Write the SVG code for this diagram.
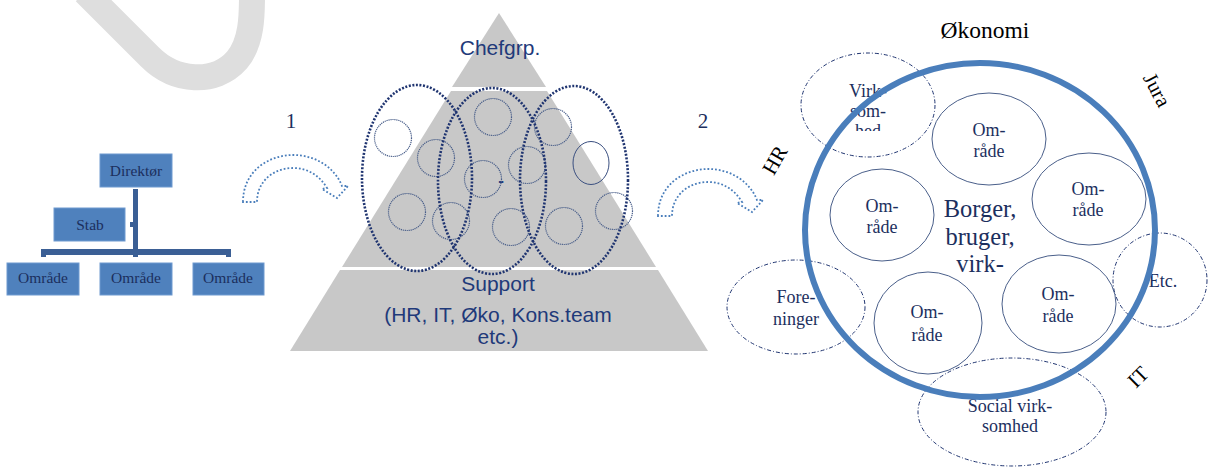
<svg xmlns="http://www.w3.org/2000/svg" width="1211" height="467" viewBox="0 0 1211 467">
<defs>
<style>
.box{fill:#4f81bd;stroke:#6f9ad0;stroke-width:1}
.ot{font-family:"Liberation Serif",serif;font-size:15.5px;fill:#1c2f5e;text-anchor:middle}
.pt{font-family:"Liberation Sans",Arial,sans-serif;font-size:21px;fill:#1f3a7a;text-anchor:middle}
.st{font-family:"Liberation Serif",serif;font-size:18px;fill:#1c2f5e;text-anchor:middle}
.bt{font-family:"Liberation Serif",serif;font-size:24.5px;fill:#1c2f5e;text-anchor:middle}
.lt{font-family:"Liberation Serif",serif;font-size:21px;fill:#000;text-anchor:middle}
.big{fill:none;stroke:#1f3470;stroke-width:2.6;stroke-dasharray:2 1.6}
.sm{fill:none;stroke:#4a5f8a;stroke-width:1.2;stroke-dasharray:1.2 0.8}
.arr{fill:none;stroke:#4a7ebb;stroke-width:1.8;stroke-dasharray:1.8 2}
.om{fill:none;stroke:#4a5f8a;stroke-width:1}
.dd{fill:none;stroke:#1f3470;stroke-width:1;stroke-dasharray:4 2 1 2}
.con{fill:#3b5f95}
</style>
<clipPath id="hedclip"><rect x="830" y="120" width="80" height="11"/></clipPath>
<path id="carrow" d="M 243,202 C 243,170 270,155 293,155 C 316,155 335,168 342,186 L 348,186 L 337,198 L 322,189 L 327,188 C 320,176 308,168 293,168 C 275,168 257,180 257,202 Z"/>
</defs>
<rect width="1211" height="467" fill="#fff"/>
<path d="M 85,-8 L 150,57 C 175,82 215,85 237,60 C 252,42 252,15 252,-5" fill="none" stroke="#dedede" stroke-width="26"/>

<g id="connectors">
<rect class="con" x="133" y="189" width="5" height="68"/>
<rect class="con" x="41" y="249" width="190" height="6"/>
<rect class="con" x="41" y="249" width="5" height="8"/>
<rect class="con" x="226" y="249" width="5" height="8"/>
<rect class="con" x="130" y="222" width="4" height="5"/>
<use href="#carrow" class="arr"/>
<use href="#carrow" class="arr" transform="translate(415,14)"/>
</g>

<g id="direktor"><rect class="box" x="100" y="154" width="72" height="33"/><text class="ot" x="136" y="176">Direktør</text></g>
<g id="stab"><rect class="box" x="54" y="208" width="71" height="33"/><text class="ot" x="90" y="230">Stab</text></g>
<g id="omraade1"><rect class="box" x="7" y="263" width="72" height="32"/><text class="ot" x="43" y="283">Område</text></g>
<g id="omraade2"><rect class="box" x="100" y="263" width="72" height="32"/><text class="ot" x="136" y="283">Område</text></g>
<g id="omraade3"><rect class="box" x="193" y="263" width="71" height="32"/><text class="ot" x="228" y="283">Område</text></g>

<text id="label1" x="291" y="128" font-family="Liberation Serif,serif" font-size="21" fill="#1c2f5e" text-anchor="middle">1</text>
<text id="label2" x="703" y="128" font-family="Liberation Serif,serif" font-size="21" fill="#1c2f5e" text-anchor="middle">2</text>

<g id="pyramid">
<polygon points="499,13 546,87 452,87" fill="#c8c8c8"/>
<polygon points="451,91 547,91 656,267 342,267" fill="#c8c8c8"/>
<polygon points="340,270 658,270 708,351 290,351" fill="#c8c8c8"/>
<text class="pt" x="500" y="55">Chefgrp.</text>
<text class="pt" x="498" y="291">Support</text>
<text class="pt" x="498" y="322">(HR, IT, Øko, Kons.team</text>
<text class="pt" x="498" y="344">etc.)</text>
<text class="pt" x="501" y="186" style="font-weight:bold;font-size:17px">-</text>
</g>

<g id="groups">
<circle class="sm" cx="393" cy="138" r="18.5"/>
<circle class="sm" cx="436" cy="158" r="18.5"/>
<circle class="sm" cx="407" cy="212" r="18.5"/>
<circle class="sm" cx="451" cy="221" r="18.5"/>
<circle class="sm" cx="493" cy="117" r="18.5"/>
<circle class="sm" cx="483" cy="179" r="18.5"/>
<circle class="sm" cx="511" cy="227" r="18.5"/>
<circle class="sm" cx="527" cy="165" r="18.5"/>
<circle class="sm" cx="553" cy="127" r="18.5"/>
<ellipse cx="591" cy="163" rx="18" ry="21.5" fill="none" stroke="#3a4f80" stroke-width="1"/>
<circle class="sm" cx="564" cy="226" r="18.5"/>
<circle class="sm" cx="614" cy="211" r="18.5"/>
<ellipse class="big" cx="417" cy="178" rx="55" ry="93"/>
<ellipse class="big" cx="492" cy="181" rx="54" ry="93"/>
<ellipse class="big" cx="574" cy="180" rx="54" ry="94"/>
</g>

<text id="okonomi" class="lt" x="985" y="38" style="font-size:23.5px">Økonomi</text>
<text id="jura" class="lt" transform="translate(1157,90) rotate(62)" y="7">Jura</text>
<text id="hr" class="lt" transform="translate(775,160) rotate(-60)" y="7">HR</text>
<text id="it" class="lt" transform="translate(1138,377) rotate(-45)" y="7">IT</text>

<g id="virksomhed"><ellipse class="dd" cx="868" cy="105" rx="67" ry="52"/>
<text class="st" x="868" y="97">Virk-</text><text class="st" x="868" y="117">som-</text><text class="st" x="868" y="137" clip-path="url(#hedclip)">hed</text></g>
<g id="foreninger"><ellipse class="dd" cx="796" cy="307" rx="69" ry="47"/>
<text class="st" x="796" y="303">Fore-</text><text class="st" x="796" y="325">ninger</text></g>
<g id="etc"><ellipse class="dd" cx="1160" cy="280" rx="47" ry="47"/>
<text class="st" x="1163" y="287">Etc.</text></g>
<g id="social"><ellipse class="dd" cx="1012" cy="412" rx="94" ry="54"/>
<text class="st" x="1010" y="412">Social virk-</text><text class="st" x="1010" y="432">somhed</text></g>

<g id="borger">
<ellipse cx="980" cy="230" rx="175" ry="167" fill="none" stroke="#4a7ebb" stroke-width="6"/>
<text class="bt" x="980" y="217">Borger,</text>
<text class="bt" x="980" y="245">bruger,</text>
<text class="bt" x="980" y="272">virk-</text>
</g>

<g id="omr-a"><ellipse class="om" cx="989" cy="139" rx="57" ry="46"/><text class="st" x="989" y="136">Om-</text><text class="st" x="989" y="157">råde</text></g>
<g id="omr-b"><ellipse class="om" cx="1089" cy="199" rx="57" ry="46"/><text class="st" x="1088" y="195">Om-</text><text class="st" x="1088" y="216">råde</text></g>
<g id="omr-c"><ellipse class="om" cx="882" cy="215" rx="52" ry="46"/><text class="st" x="882" y="212">Om-</text><text class="st" x="882" y="233">råde</text></g>
<g id="omr-d"><ellipse class="om" cx="928" cy="323" rx="54" ry="51"/><text class="st" x="927" y="318">Om-</text><text class="st" x="927" y="341">råde</text></g>
<g id="omr-e"><ellipse class="om" cx="1059" cy="304" rx="57" ry="49"/><text class="st" x="1058" y="300">Om-</text><text class="st" x="1058" y="322">råde</text></g>
</svg>
